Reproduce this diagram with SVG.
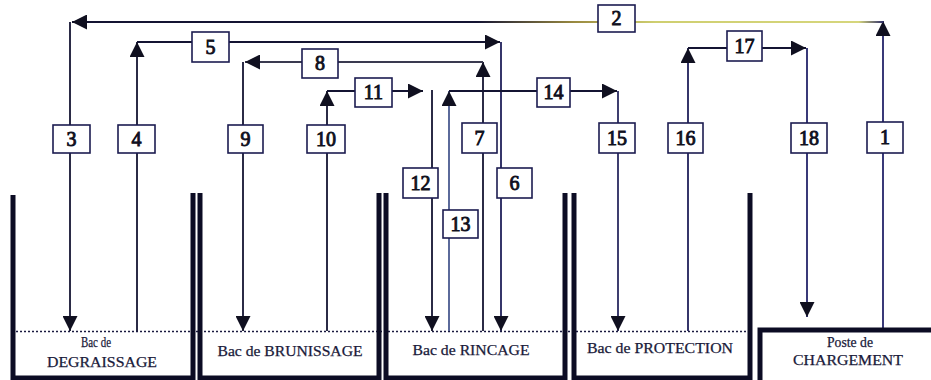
<svg xmlns="http://www.w3.org/2000/svg" width="931" height="380" viewBox="0 0 931 380">
<style>
.bg{fill:#ffffff}
.wall{fill:none;stroke:#0c0c24;stroke-width:5;stroke-linejoin:miter}
.water{fill:none;stroke:#1a1a40;stroke-width:1.6;stroke-dasharray:2 2}
.c{fill:none;stroke:#141432;stroke-width:1.8;marker-end:url(#ah)}
.box{fill:#ffffff;stroke:#1c1c50;stroke-width:1.6}
.num{font-family:"Liberation Serif","Times New Roman",serif;font-weight:normal;font-size:20px;fill:#101020;stroke:#101020;stroke-width:0.9;text-anchor:middle}
.lbl{font-family:"Liberation Serif","Times New Roman",serif;font-size:14px;fill:#1a1a3a;stroke:#1a1a3a;stroke-width:0.25;text-anchor:middle}
</style>
<defs>
<marker id="ah" viewBox="0 0 10 10" refX="10" refY="5" markerWidth="15" markerHeight="15" markerUnits="userSpaceOnUse" orient="auto">
<path d="M0,0 L10,5 L0,10 z" fill="#101020"/>
</marker>
<linearGradient id="g2" gradientUnits="userSpaceOnUse" x1="71" y1="0" x2="883" y2="0">
<stop offset="0" stop-color="#141432"/>
<stop offset="0.5" stop-color="#141432"/>
<stop offset="0.62" stop-color="#9a8a40"/>
<stop offset="0.72" stop-color="#cfcf70"/>
<stop offset="0.97" stop-color="#d6d67c"/>
<stop offset="1" stop-color="#30306a"/>
</linearGradient>
</defs>
<rect class="bg" x="0" y="0" width="931" height="380"/>

<g id="water-level">
<path class="water" d="M16,331.5 H749"/>
</g>

<g id="connectors">
<path class="c" id="c1" d="M883,328 V21" style="stroke:#24246a"/>
<path class="c" id="c2" d="M883,22 H72" style="stroke:url(#g2)"/>
<path class="c" id="c3" d="M70,22 V331"/>
<path class="c" id="c4" d="M137,331 V42"/>
<path class="c" id="c5" d="M137,42 H500"/>
<path class="c" id="c6" d="M501,42 V331" style="stroke:#20205a"/>
<path class="c" id="c7" d="M483,331 V62"/>
<path class="c" id="c8" d="M483,62 H245" style="stroke:#3a3a50"/>
<path class="c" id="c9" d="M243,62 V331"/>
<path class="c" id="c10" d="M327,331 V91"/>
<path class="c" id="c11" d="M327,91 H423"/>
<path class="c" id="c12" d="M432,90 V331"/>
<path class="c" id="c13" d="M449,331 V91" style="stroke:#4a5a90"/>
<path class="c" id="c14" d="M449,91 H617"/>
<path class="c" id="c15" d="M618,91 V331" style="stroke:#2a2a60"/>
<path class="c" id="c16" d="M688,331 V48" style="stroke:#20205a"/>
<path class="c" id="c17" d="M688,48 H806"/>
<path class="c" id="c18" d="M807,48 V317" style="stroke:#24246a"/>
</g>

<g id="tank-degraissage">
<path class="wall" d="M13,195 V378 H193 V193"/>
<text class="lbl" x="96" y="347" textLength="30" lengthAdjust="spacingAndGlyphs">Bac de</text>
<text class="lbl" x="102" y="367" textLength="110" lengthAdjust="spacingAndGlyphs">DEGRAISSAGE</text>
</g>
<g id="tank-brunissage">
<path class="wall" d="M200,193 V378 H379 V193"/>
<text class="lbl" x="290" y="356" textLength="145" lengthAdjust="spacingAndGlyphs">Bac de BRUNISSAGE</text>
</g>
<g id="tank-rincage">
<path class="wall" d="M386,193 V378 H565 V193"/>
<text class="lbl" x="471" y="355" textLength="117" lengthAdjust="spacingAndGlyphs">Bac de RINCAGE</text>
</g>
<g id="tank-protection">
<path class="wall" d="M574,193 V378 H750 V193"/>
<text class="lbl" x="660" y="353" textLength="146" lengthAdjust="spacingAndGlyphs">Bac de PROTECTION</text>
</g>
<g id="poste-chargement">
<path class="wall" d="M760,382 V330 H933"/>
<text class="lbl" x="850" y="347" textLength="46" lengthAdjust="spacingAndGlyphs">Poste de</text>
<text class="lbl" x="848" y="365" textLength="110" lengthAdjust="spacingAndGlyphs">CHARGEMENT</text>
</g>

<g id="step-1"><rect class="box" x="867" y="122" width="36" height="31"/><text class="num" x="885" y="144">1</text></g>
<g id="step-2"><rect class="box" x="598" y="5" width="37" height="27"/><text class="num" x="616.5" y="25">2</text></g>
<g id="step-3"><rect class="box" x="53" y="125" width="37" height="28"/><text class="num" x="71.5" y="146">3</text></g>
<g id="step-4"><rect class="box" x="118" y="125" width="37" height="28"/><text class="num" x="136.5" y="146">4</text></g>
<g id="step-5"><rect class="box" x="192" y="32" width="37" height="30"/><text class="num" x="210.5" y="54">5</text></g>
<g id="step-6"><rect class="box" x="497" y="168" width="35" height="30"/><text class="num" x="514.5" y="190">6</text></g>
<g id="step-7"><rect class="box" x="462" y="123" width="35" height="30"/><text class="num" x="479.5" y="145">7</text></g>
<g id="step-8"><rect class="box" x="302" y="49" width="36" height="29"/><text class="num" x="320" y="70">8</text></g>
<g id="step-9"><rect class="box" x="228" y="125" width="35" height="28"/><text class="num" x="245.5" y="146">9</text></g>
<g id="step-10"><rect class="box" x="307" y="125" width="38" height="28"/><text class="num" x="326" y="146">10</text></g>
<g id="step-11"><rect class="box" x="355" y="78" width="37" height="29"/><text class="num" x="373.5" y="99">11</text></g>
<g id="step-12"><rect class="box" x="403" y="168" width="35" height="30"/><text class="num" x="420.5" y="190">12</text></g>
<g id="step-13"><rect class="box" x="443" y="210" width="35" height="28"/><text class="num" x="460.5" y="231">13</text></g>
<g id="step-14"><rect class="box" x="537" y="78" width="33" height="29"/><text class="num" x="553.5" y="99">14</text></g>
<g id="step-15"><rect class="box" x="599" y="123" width="36" height="30"/><text class="num" x="617" y="145">15</text></g>
<g id="step-16"><rect class="box" x="668" y="123" width="35" height="30"/><text class="num" x="685.5" y="145">16</text></g>
<g id="step-17"><rect class="box" x="727" y="31" width="35" height="30"/><text class="num" x="744.5" y="53">17</text></g>
<g id="step-18"><rect class="box" x="791" y="123" width="36" height="30"/><text class="num" x="809" y="145">18</text></g>
</svg>
